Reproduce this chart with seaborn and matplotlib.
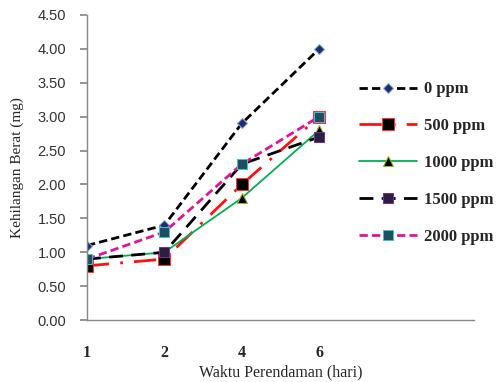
import matplotlib
matplotlib.use("Agg")
import matplotlib.pyplot as plt
import pandas as pd
import seaborn as sns

# data
days = ["1", "2", "4", "6"]
day_pos = [0, 2, 4, 6]
series = ["0 ppm", "500 ppm", "1000 ppm", "1500 ppm", "2000 ppm"]
ppm0 = [1.1, 1.4, 2.9, 4.0]
ppm500 = [0.8, 0.9, 2.0, 3.0]
ppm1000 = [0.9, 1.0, 1.8, 2.8]
ppm1500 = [0.9, 1.0, 2.3, 2.7]
ppm2000 = [0.9, 1.3, 2.3, 3.0]
values = [ppm0, ppm500, ppm1000, ppm1500, ppm2000]

rows = []
for name, vals in zip(series, values):
    for p, v in zip(day_pos, vals):
        rows.append({"seri": name, "pos": p, "berat": v})
df = pd.DataFrame(rows)

sns.set_theme(style="white")
plt.rcParams["font.family"] = ["Liberation Serif", "DejaVu Serif"]

styles = {
    "0 ppm": dict(color="black", dashes=(3, 1.5), marker="D", ms=5,
                  mfc="#1f2d6b", mec="#7fa8d8", lw=2),
    "500 ppm": dict(color="#ff1010", dashes=(8, 4, 1, 4), marker="s", ms=8,
                    mfc="black", mec="#ff3030", lw=2),
    "1000 ppm": dict(color="#00b050", marker="^", ms=7,
                     mfc="black", mec="#a0b020", lw=1.3),
    "1500 ppm": dict(color="black", dashes=(5, 3), marker="s", ms=7,
                     mfc="#2a1f3d", mec="#7030a0", lw=2),
    "2000 ppm": dict(color="#e8109a", dashes=(3, 1.5), marker="s", ms=7,
                     mfc="#1f4e5f", mec="#40c0d0", lw=2),
}

fig = plt.figure(figsize=(5, 3.82), dpi=100)
ax = fig.add_axes([0.174, 0.162, 0.774, 0.799])

for name in series:
    st = dict(styles[name])
    sub = df[df["seri"] == name]
    sns.lineplot(data=sub, x="pos", y="berat", ax=ax, legend=False,
                 label=name, **st)

ax.set_xlim(0, 10)
ax.set_ylim(0, 4.5)
ax.set_xticks(range(0, 11))
ax.set_xticklabels([days[day_pos.index(i)] if i in day_pos else "" for i in range(11)],
                   fontweight="bold", fontsize=11.5)
ax.set_yticks([i * 0.5 for i in range(10)])
ax.set_yticklabels([f"{i * 0.5:.2f}" for i in range(10)],
                   family=["Liberation Sans"], fontsize=10.5, color="#333333")
ax.tick_params(axis="x", direction="in", length=4, pad=18, color="#888888")
ax.tick_params(axis="y", direction="out", length=5, pad=10, color="#888888", left=True)
ax.set_xlabel("Waktu Perendaman (hari)", fontsize=11.5, labelpad=2)
ax.set_ylabel("Kehilangan Berat (mg)", fontsize=11, labelpad=10)

for s in ["top", "right"]:
    ax.spines[s].set_visible(False)
for s in ["left", "bottom"]:
    ax.spines[s].set_color("#888888")
    ax.spines[s].set_linewidth(1)

leg = ax.legend(loc="upper left", bbox_to_anchor=(0.703, 0.782), frameon=False,
                borderpad=0, borderaxespad=0,
                prop={"weight": "bold", "size": 12}, handlelength=3.5,
                handletextpad=0.4, labelspacing=1.25)

fig.savefig("out.png", dpi=100)
